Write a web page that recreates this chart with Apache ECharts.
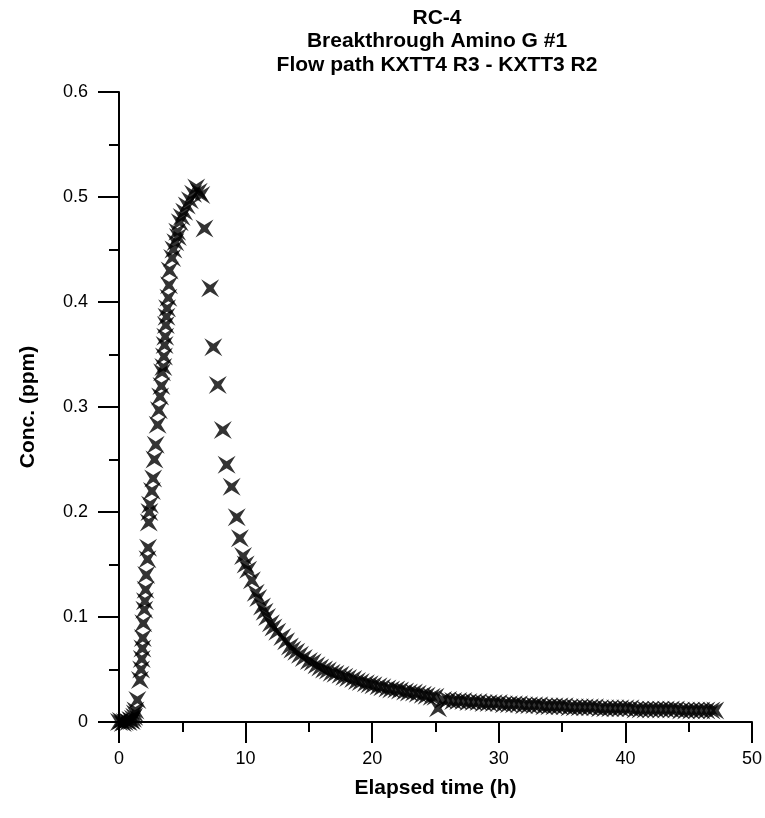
<!DOCTYPE html>
<html>
<head>
<meta charset="utf-8">
<script src="https://cdn.jsdelivr.net/npm/echarts@6/dist/echarts.min.js"></script>
<style>
html,body{margin:0;padding:0;background:#fff;}
#chart{width:765px;height:818px;}
</style>
</head>
<body>
<div id="chart"></div>
<script>
const titleLines = ['RC-4', 'Breakthrough Amino G #1', 'Flow path KXTT4 R3 - KXTT3 R2'];
const xAxisTitle = 'Elapsed time (h)';
const yAxisTitle = 'Conc. (ppm)';
const xTicks = [0, 10, 20, 30, 40, 50];
const yTicks = [0, 0.1, 0.2, 0.3, 0.4, 0.5, 0.6];

// Elapsed time (h)
const elapsedTime = [
  0.0, 0.15, 0.3, 0.45, 0.6, 0.75, 0.9, 1.0, 1.1, 1.2, 1.25,
  1.3, 1.45, 1.65, 1.75, 1.8, 1.85, 1.88, 1.92, 2.0, 2.05, 2.1, 2.15, 2.25, 2.3, 2.35, 2.4, 2.45,
  2.6, 2.7, 2.8, 2.9, 3.05, 3.15, 3.25, 3.35, 3.4, 3.5, 3.55, 3.6, 3.65, 3.7, 3.75, 3.8, 3.9, 3.95,
  4.0, 4.2, 4.3, 4.45, 4.6, 4.65, 4.8, 4.95, 5.15, 5.35, 5.6, 5.85, 6.1, 6.3, 6.5,
  6.75, 7.2, 7.45, 7.8, 8.2, 8.5, 8.9, 9.3, 9.55, 9.8,
  10.0, 10.2, 10.5, 10.8, 11.0, 11.3, 11.5, 11.7, 12.0, 12.2, 12.5, 12.9, 13.2, 13.5, 13.7,
  14.0, 14.3, 14.6, 15.0, 15.3, 15.6, 15.9, 16.2, 16.5, 16.8, 17.1, 17.5, 17.8, 18.1, 18.5,
  18.8, 19.1, 19.5, 19.8, 20.1, 20.5, 20.8, 21.2, 21.5, 21.9, 22.2, 22.6, 22.9, 23.3, 23.6,
  24.0, 24.3, 24.7, 25.0, 25.2, 25.6, 26.0, 26.4, 26.8, 27.2, 27.6, 28.0, 28.4, 28.8, 29.2,
  29.6, 30.0, 30.4, 30.8, 31.2, 31.6, 32.0, 32.4, 32.8, 33.2, 33.6, 34.0, 34.4, 34.8, 35.2,
  35.6, 36.0, 36.4, 36.8, 37.2, 37.6, 38.0, 38.4, 38.8, 39.2, 39.6, 40.0, 40.4, 40.8, 41.2,
  41.6, 42.0, 42.4, 42.8, 43.2, 43.6, 44.0, 44.4, 44.8, 45.2, 45.6, 46.0, 46.4, 46.8, 47.1
];
// Concentration (ppm)
const concentration = [
  0.0, 0.001, -0.001, 0.0, 0.001, 0.0, 0.002, 0.001, 0.003, 0.005, 0.008,
  0.011, 0.021, 0.04, 0.05, 0.06, 0.07, 0.08, 0.094, 0.107, 0.115, 0.126, 0.14, 0.155, 0.166, 0.19, 0.2, 0.207,
  0.22, 0.232, 0.25, 0.264, 0.283, 0.297, 0.31, 0.32, 0.333, 0.338, 0.348, 0.359, 0.367, 0.378, 0.386, 0.394, 0.404, 0.416,
  0.43, 0.442, 0.45, 0.457, 0.467, 0.462, 0.476, 0.481, 0.486, 0.492, 0.497, 0.503, 0.509, 0.505, 0.502,
  0.47, 0.413, 0.357, 0.321, 0.278, 0.245, 0.224, 0.195, 0.175, 0.158,
  0.150, 0.145, 0.135, 0.123, 0.118, 0.110, 0.105, 0.100, 0.094, 0.090, 0.086, 0.081, 0.077, 0.072, 0.069,
  0.067, 0.064, 0.061, 0.058, 0.057, 0.054, 0.052, 0.050, 0.049, 0.047, 0.046, 0.045, 0.043, 0.042, 0.041,
  0.039, 0.038, 0.037, 0.036, 0.035, 0.034, 0.033, 0.032, 0.031, 0.031, 0.030, 0.029, 0.028, 0.028, 0.027,
  0.026, 0.025, 0.024, 0.024, 0.013, 0.021, 0.021, 0.020, 0.020, 0.020, 0.019, 0.019, 0.019, 0.018, 0.018,
  0.018, 0.018, 0.017, 0.017, 0.017, 0.017, 0.016, 0.016, 0.016, 0.016, 0.015, 0.015, 0.015, 0.015, 0.015,
  0.014, 0.014, 0.014, 0.014, 0.014, 0.014, 0.013, 0.013, 0.013, 0.013, 0.013, 0.013, 0.013, 0.012, 0.012,
  0.012, 0.012, 0.012, 0.012, 0.012, 0.012, 0.012, 0.011, 0.011, 0.011, 0.011, 0.011, 0.011, 0.011, 0.011
];

const points = elapsedTime.map((t, i) => [t, concentration[i]]);
const starPath = 'path://M0 0 L50 31 L100 0 L69 50 L100 100 L50 69 L0 100 L31 50 Z';
const FONT = 'Arial, "Liberation Sans", sans-serif';

const chart = echarts.init(document.getElementById('chart'), null, {renderer: 'canvas'});
chart.setOption({
  backgroundColor: '#ffffff',
  animation: false,
  grid: {left: 119, right: 13, top: 92, bottom: 96, containLabel: false},
  graphic: titleLines.map((line, i) => ({
    type: 'text',
    x: 437,
    y: 18 + i * 23.5,
    style: {text: line, fontFamily: FONT, fontWeight: 'bold', fontSize: 21, fill: '#000', textAlign: 'center', textVerticalAlign: 'middle'}
  })),
  xAxis: {
    type: 'value',
    min: xTicks[0], max: xTicks[xTicks.length - 1], interval: 10,
    name: xAxisTitle, nameLocation: 'middle', nameGap: 56,
    nameTextStyle: {fontFamily: FONT, fontWeight: 'bold', fontSize: 21, color: '#000'},
    axisLine: {onZero: false, lineStyle: {color: '#000', width: 2}},
    axisTick: {show: true, inside: false, length: 21, lineStyle: {color: '#000', width: 2}},
    minorTick: {show: true, splitNumber: 2, length: 10, lineStyle: {color: '#000', width: 2}},
    axisLabel: {margin: 28, fontFamily: FONT, fontSize: 18, color: '#000'},
    splitLine: {show: false}
  },
  yAxis: {
    type: 'value',
    min: yTicks[0], max: yTicks[yTicks.length - 1], interval: 0.1,
    name: yAxisTitle, nameLocation: 'middle', nameGap: 80,
    nameTextStyle: {fontFamily: FONT, fontWeight: 'bold', fontSize: 21, color: '#000'},
    axisLine: {onZero: false, lineStyle: {color: '#000', width: 2}},
    axisTick: {show: true, inside: false, length: 21, lineStyle: {color: '#000', width: 2}},
    minorTick: {show: true, splitNumber: 2, length: 10, lineStyle: {color: '#000', width: 2}},
    axisLabel: {margin: 31, fontFamily: FONT, fontSize: 18, color: '#000', formatter: v => String(+v.toFixed(1))},
    splitLine: {show: false}
  },
  series: [{
    type: 'scatter',
    data: points,
    symbol: starPath,
    symbolSize: 18,
    itemStyle: {color: '#000'},
    clip: false
  }]
});
</script>
</body>
</html>
